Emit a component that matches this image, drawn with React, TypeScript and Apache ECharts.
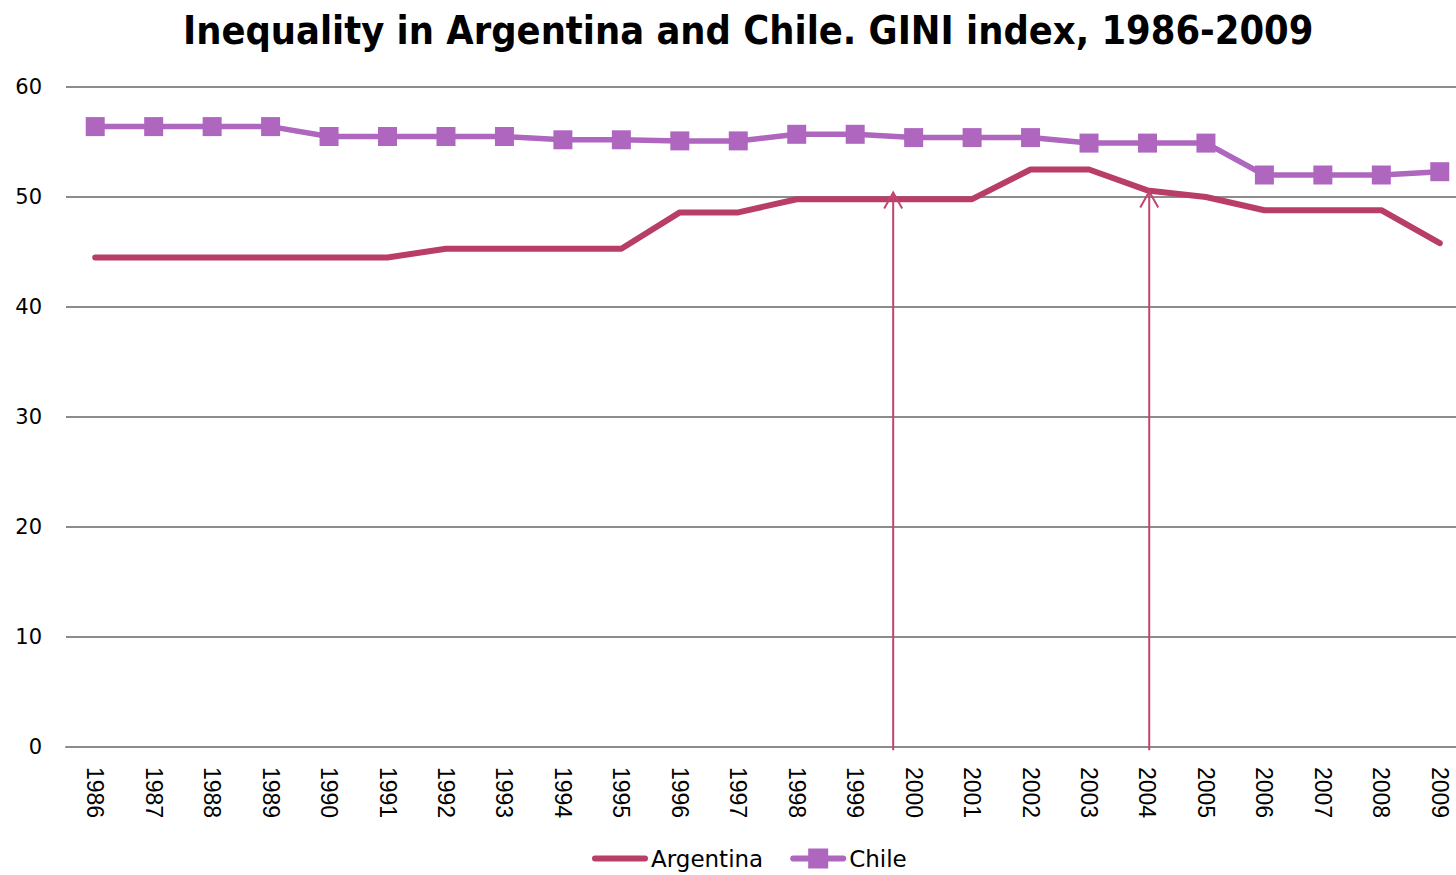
import React, { useEffect, useRef } from "react";
import * as echarts from "echarts";

const years = ["1986","1987","1988","1989","1990","1991","1992","1993","1994","1995","1996","1997","1998","1999","2000","2001","2002","2003","2004","2005","2006","2007","2008","2009"];
const argentina = [44.5,44.5,44.5,44.5,44.5,44.5,45.3,45.3,45.3,45.3,48.6,48.6,49.8,49.8,49.8,49.8,52.5,52.5,50.6,50.0,48.8,48.8,48.8,45.8];
const chile = [56.4,56.4,56.4,56.4,55.5,55.5,55.5,55.5,55.2,55.2,55.1,55.1,55.7,55.7,55.4,55.4,55.4,54.9,54.9,54.9,52.0,52.0,52.0,52.3];
// arrows: x position (category index), tip value, foot value
const arrowX = [13.65, 18.03];
const arrowTop = [50.4, 50.5];
const arrowBottom = [-0.3, -0.3];
const yTicks = { min: 0, max: 60, interval: 10 };

const ARG = "#B83E68";
const CHI = "#AE66BF";
const GRID = "#8C8C8C";

const ARG_ICON = "path://M3,0 L53,0 A3,3 0 0 1 53,6 L3,6 A3,3 0 0 1 3,0 Z";
const CHI_ICON = "path://M3,7 L18,7 L18,0 L38,0 L38,7 L53,7 A3,3 0 0 1 53,13 L38,13 L38,20 L18,20 L18,13 L3,13 A3,3 0 0 1 3,7 Z";

export default function App() {
  const ref = useRef<HTMLDivElement>(null);
  useEffect(() => {
    const chart = echarts.init(ref.current!, undefined, { renderer: "svg" });
    chart.setOption({
      animation: false,
      title: {
        text: "Inequality in Argentina and Chile. GINI index, 1986-2009",
        left: 183,
        top: 10,
        padding: 0,
        textStyle: { fontFamily: "DejaVu Sans Condensed", fontWeight: "bold", fontSize: 39.4, color: "#000" },
      },
      legend: {
        bottom: 0,
        left: 587,
        itemWidth: 56,
        itemHeight: 20,
        itemGap: 27,
        textStyle: { fontFamily: "DejaVu Sans", fontSize: 23, color: "#000", padding: [0, 0, 0, -2] },
        data: [
          { name: "Argentina", icon: ARG_ICON },
          { name: "Chile", icon: CHI_ICON },
        ],
      },
      grid: { left: 66, right: 0, top: 87, bottom: 128 },
      xAxis: [
        {
          type: "category",
          data: years,
          boundaryGap: true,
          axisLine: { lineStyle: { color: GRID, width: 2 } },
          axisTick: { show: false },
          axisLabel: { rotate: -90, margin: 20, fontFamily: "Liberation Sans", fontSize: 23, color: "#000" },
        },
        { type: "value", min: -0.5, max: 23.5, show: false },
      ],
      yAxis: {
        type: "value",
        min: yTicks.min,
        max: yTicks.max,
        interval: yTicks.interval,
        axisLine: { show: false },
        axisTick: { show: false },
        splitLine: { lineStyle: { color: GRID, width: 2 } },
        axisLabel: { margin: 24, fontFamily: "DejaVu Sans", fontSize: 21, color: "#000" },
      },
      series: [
        {
          name: "Argentina",
          type: "line",
          data: argentina,
          symbol: "none",
          lineStyle: { color: ARG, width: 6, cap: "round", join: "round" },
          itemStyle: { color: ARG },
          z: 3,
        },
        {
          name: "Chile",
          type: "line",
          data: chile,
          symbol: "rect",
          symbolSize: 19,
          lineStyle: { color: CHI, width: 5.5 },
          itemStyle: { color: CHI },
          z: 4,
        },
        {
          name: "arrows",
          type: "custom",
          xAxisIndex: 1,
          clip: false,
          z: 5,
          data: arrowX.map((x, i) => [x, arrowTop[i], arrowBottom[i]]),
          encode: { x: 0, y: 1 },
          renderItem: (params: any, api: any) => {
            const tip = api.coord([api.value(0), api.value(1)]);
            const foot = api.coord([api.value(0), api.value(2)]);
            const stroke = { stroke: "#C2456F", lineWidth: 2, fill: "none" };
            return {
              type: "group",
              children: [
                { type: "line", shape: { x1: foot[0], y1: foot[1], x2: tip[0], y2: tip[1] }, style: stroke },
                {
                  type: "polyline",
                  shape: { points: [[tip[0] - 9, tip[1] + 16], [tip[0], tip[1]], [tip[0] + 9, tip[1] + 16]] },
                  style: stroke,
                },
              ],
            };
          },
        },
      ],
    });
    return () => chart.dispose();
  }, []);
  return (
    <div
      ref={ref}
      style={{ position: "fixed", left: 0, top: 0, width: 1469, height: 875, background: "#fff" }}
    />
  );
}
